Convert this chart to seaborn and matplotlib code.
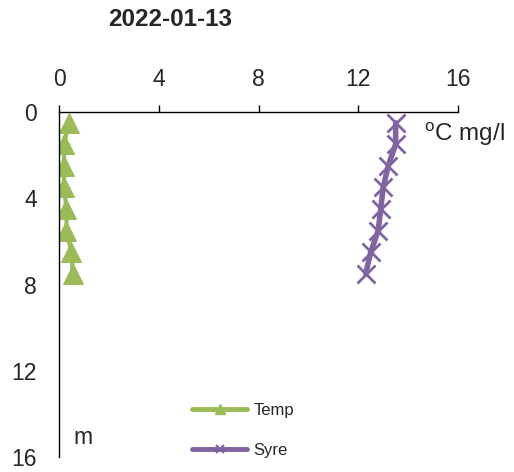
import matplotlib
matplotlib.use("Agg")
import matplotlib.pyplot as plt
import seaborn as sns
import pandas as pd
from matplotlib.lines import Line2D

depth = [0.5, 1.5, 2.5, 3.5, 4.5, 5.5, 6.5, 7.5]
temp = [0.4, 0.2, 0.2, 0.2, 0.3, 0.3, 0.5, 0.55]
syre = [13.5, 13.5, 13.2, 13.0, 12.9, 12.8, 12.5, 12.3]
x_ticks = [0, 4, 8, 12, 16]
y_ticks = [0, 4, 8, 12, 16]
title = "2022-01-13"

sns.set_style("white")
plt.rcParams['font.family'] = ['Liberation Sans', 'DejaVu Sans']
plt.rcParams['mathtext.fontset'] = 'custom'
plt.rcParams['mathtext.rm'] = 'Liberation Sans'

fig = plt.figure(figsize=(5.14, 4.72), dpi=100)
ax = fig.add_axes([59/514, 1 - 457/472, (458-59)/514, (457-112)/472])

green = "#9BBB59"
purple = "#8064A2"

df_t = pd.DataFrame({"x": temp, "y": depth})
df_s = pd.DataFrame({"x": syre, "y": depth})
sns.lineplot(data=df_t, x="x", y="y", sort=False, ax=ax, color=green, lw=3,
             marker="^", markersize=14, markeredgecolor=green, estimator=None)
sns.lineplot(data=df_s, x="x", y="y", sort=False, ax=ax, color=purple, lw=4,
             marker="x", markersize=13, markeredgewidth=2, markeredgecolor=purple, estimator=None)

ax.set_xlim(0, 16)
ax.set_ylim(16, 0)
ax.set_xticks(x_ticks)
ax.set_yticks(y_ticks)
ax.xaxis.tick_top()
ax.tick_params(axis="both", labelsize=16.5, direction="out", length=5, width=1, color="black")
ax.tick_params(axis="x", pad=10)
ax.tick_params(axis="y", pad=11)
ax.set_xlabel("")
ax.set_ylabel("")
for s in ["right", "bottom"]:
    ax.spines[s].set_visible(False)
for s in ["left", "top"]:
    ax.spines[s].set_color("black")
    ax.spines[s].set_linewidth(1)

fig.text(170/514, 1 - 19/472, title, fontsize=17.5, fontweight="bold", ha="center", va="center")
fig.text(424/514, 1 - 134/472, r"$^{\mathrm{o}}$C mg/l", fontsize=17.5, ha="left", va="center")
fig.text(73/514, 1 - 437/472, "m", fontsize=16.5, ha="left", va="center")

handles = [Line2D([], [], color=green, lw=3.5, marker="^", markersize=7),
           Line2D([], [], color=purple, lw=3.5, marker="x", markersize=6, markeredgewidth=1.5)]
fig.legend(handles, ["Temp", "Syre"], loc="center left", bbox_to_anchor=(192/514, 1 - 430/472),
           frameon=False, fontsize=12, handlelength=3.3, labelspacing=1.5, handletextpad=0.4, borderpad=0,
           borderaxespad=0)

fig.savefig("out.png", dpi=100)
